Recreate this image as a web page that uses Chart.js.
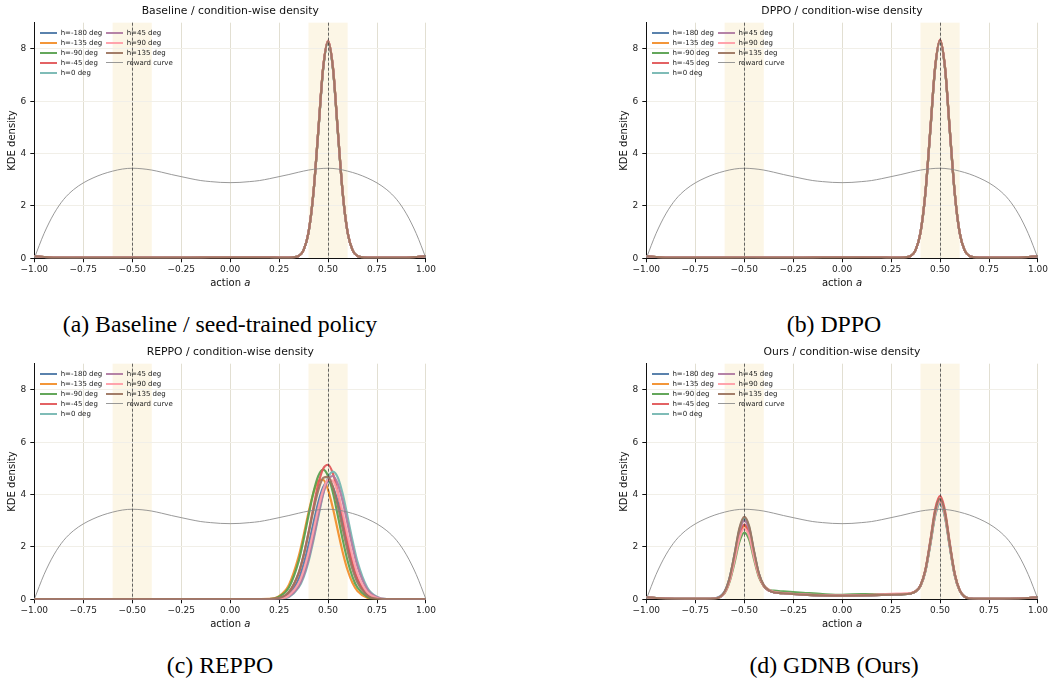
<!DOCTYPE html>
<html>
<head>
<meta charset="utf-8">
<script src="https://cdn.jsdelivr.net/npm/chart.js@4.4.1/dist/chart.umd.min.js"></script>
<style>
    body { margin: 0; width: 1050px; height: 682px; position: relative; overflow: hidden; background: #fff; font-family: "DejaVu Sans", sans-serif; color: #111; }
    .panel { position: absolute; width: 438px; height: 300px; }
    .panel canvas { position: absolute; left: 0; top: 0; }
    .ptitle { position: absolute; left: 34.3px; width: 392px; top: 4px; text-align: center; font-size: 10.8px; line-height: 13px; }
    .xlabel { position: absolute; left: 34.3px; width: 392px; top: 276.7px; text-align: center; font-size: 10px; line-height: 12px; }
    .legend { position: absolute; left: 40px; top: 27.7px; width: 150px; height: 50px; }
    .leg-item { position: absolute; height: 10px; width: 70px; font-size: 7px; line-height: 10px; color: #222; }
    .leg-line { position: absolute; left: 0; width: 17px; }
    .leg-text { position: absolute; left: 20.7px; top: 0; white-space: nowrap; }
    .caption { position: absolute; width: 440px; text-align: center; font-family: "Liberation Serif", serif; font-size: 23.8px; line-height: 24px; color: #000; }
</style>
</head>
<body>
<div id="root"></div>
<script>
// shared x grid for the KDE curves (finer around the two target modes)
const actionGrid = [-1, -0.95, -0.9, -0.8, -0.7, -0.65, -0.6, -0.575, -0.55, -0.525, -0.5, -0.475, -0.45, -0.425, -0.4, -0.375, -0.35, -0.3, -0.2, -0.1, 0, 0.1, 0.2, 0.25, 0.3, 0.35, 0.375, 0.4, 0.425, 0.45, 0.475, 0.5, 0.525, 0.55, 0.575, 0.6, 0.625, 0.65, 0.7, 0.75, 0.8, 0.9, 0.95, 1];

// reward curve (same in every panel)
const rewardGrid = [-1, -0.95, -0.9, -0.85, -0.8, -0.75, -0.7, -0.65, -0.6, -0.55, -0.5, -0.45, -0.4, -0.35, -0.3, -0.25, -0.2, -0.15, -0.1, -0.05, 0, 0.05, 0.1, 0.15, 0.2, 0.25, 0.3, 0.35, 0.4, 0.45, 0.5, 0.55, 0.6, 0.65, 0.7, 0.75, 0.8, 0.85, 0.9, 0.95, 1];
const rewardCurve = [0, 0.95, 1.7, 2.25, 2.62, 2.88, 3.07, 3.22, 3.33, 3.41, 3.44, 3.42, 3.37, 3.29, 3.2, 3.12, 3.04, 2.97, 2.93, 2.9, 2.89, 2.9, 2.93, 2.97, 3.04, 3.12, 3.2, 3.29, 3.37, 3.42, 3.44, 3.41, 3.33, 3.22, 3.07, 2.88, 2.62, 2.25, 1.7, 0.95, 0];

const headingLabels = ['h=-180 deg', 'h=-135 deg', 'h=-90 deg', 'h=-45 deg', 'h=0 deg', 'h=45 deg', 'h=90 deg', 'h=135 deg'];
const headingColors = ['#4e79a7', '#f28e2b', '#59a14f', '#e15759', '#76b7b2', '#b07aa1', '#ff9da7', '#9c755f'];

const xTicks = [-1, -0.75, -0.5, -0.25, 0, 0.25, 0.5, 0.75, 1];
const yTicks = [0, 2, 4, 6, 8];
const successBands = [[-0.6, -0.4], [0.4, 0.6]];
const targetModes = [-0.5, 0.5];

// Baseline / seed-trained policy
const baselineKde = [
    [0.07,0.04,0.03,0.02,0.03,0.03,0.03,0.03,0.03,0.03,0.03,0.03,0.03,0.03,0.03,0.03,0.03,0.03,0.03,0.04,0.05,0.05,0.04,0.03,0.03, 0.09,0.31,0.97,2.46,4.82,7.23,8.25,7.23,4.82,2.46,0.97,0.31,0.09, 0.03,0.03,0.03,0.03,0.05,0.07],
    [0.08,0.05,0.03,0.03,0.03,0.03,0.03,0.03,0.04,0.04,0.04,0.04,0.03,0.03,0.03,0.03,0.03,0.03,0.03,0.03,0.04,0.04,0.04,0.03,0.03, 0.09,0.31,0.98,2.48,4.85,7.28,8.30,7.28,4.85,2.48,0.98,0.31,0.09, 0.03,0.03,0.03,0.03,0.05,0.08],
    [0.08,0.05,0.03,0.03,0.03,0.03,0.03,0.03,0.03,0.03,0.03,0.03,0.03,0.03,0.03,0.03,0.03,0.04,0.04,0.05,0.05,0.04,0.04,0.03,0.03, 0.09,0.31,0.97,2.47,4.84,7.26,8.28,7.26,4.84,2.47,0.97,0.31,0.09, 0.03,0.03,0.03,0.03,0.05,0.08],
    [0.08,0.05,0.03,0.03,0.03,0.03,0.03,0.03,0.03,0.03,0.03,0.03,0.03,0.03,0.03,0.03,0.03,0.03,0.03,0.04,0.04,0.04,0.04,0.03,0.03, 0.09,0.31,0.98,2.48,4.86,7.29,8.32,7.29,4.86,2.48,0.98,0.31,0.09, 0.03,0.03,0.03,0.03,0.05,0.08],
    [0.08,0.05,0.03,0.03,0.03,0.03,0.03,0.03,0.03,0.03,0.03,0.03,0.03,0.03,0.03,0.03,0.03,0.03,0.03,0.04,0.04,0.04,0.04,0.03,0.03, 0.09,0.31,0.97,2.47,4.83,7.25,8.27,7.25,4.83,2.47,0.97,0.31,0.09, 0.03,0.03,0.03,0.03,0.05,0.08],
    [0.08,0.05,0.03,0.03,0.03,0.03,0.03,0.03,0.03,0.03,0.03,0.03,0.03,0.03,0.03,0.03,0.03,0.03,0.03,0.04,0.04,0.04,0.04,0.03,0.03, 0.09,0.31,0.98,2.48,4.85,7.28,8.30,7.28,4.85,2.48,0.98,0.31,0.09, 0.03,0.03,0.03,0.03,0.05,0.08],
    [0.08,0.05,0.03,0.03,0.03,0.03,0.03,0.03,0.03,0.03,0.03,0.03,0.03,0.03,0.03,0.03,0.03,0.03,0.03,0.04,0.04,0.04,0.04,0.03,0.03, 0.09,0.31,0.98,2.48,4.86,7.28,8.31,7.28,4.86,2.48,0.98,0.31,0.09, 0.03,0.03,0.03,0.03,0.05,0.08],
    [0.08,0.05,0.03,0.03,0.03,0.03,0.03,0.03,0.03,0.03,0.03,0.03,0.03,0.03,0.03,0.03,0.03,0.03,0.03,0.04,0.04,0.04,0.04,0.03,0.03, 0.09,0.31,0.98,2.48,4.85,7.27,8.29,7.27,4.85,2.48,0.98,0.31,0.09, 0.03,0.03,0.03,0.03,0.05,0.08]
];

// DPPO
const dppoKde = [
    [0.07,0.04,0.03,0.03,0.03,0.03,0.03,0.03,0.03,0.03,0.03,0.03,0.03,0.03,0.03,0.03,0.03,0.03,0.03,0.03,0.04,0.04,0.04,0.03,0.03, 0.09,0.31,0.97,2.47,4.84,7.26,8.28,7.26,4.84,2.47,0.97,0.31,0.09, 0.03,0.03,0.03,0.03,0.05,0.07],
    [0.08,0.05,0.03,0.03,0.03,0.03,0.03,0.03,0.04,0.04,0.04,0.05,0.05,0.04,0.03,0.03,0.03,0.03,0.03,0.03,0.03,0.04,0.04,0.03,0.03, 0.09,0.31,0.98,2.49,4.88,7.31,8.34,7.31,4.88,2.49,0.98,0.31,0.09, 0.03,0.03,0.03,0.03,0.05,0.08],
    [0.08,0.05,0.03,0.03,0.03,0.03,0.03,0.03,0.03,0.03,0.03,0.03,0.03,0.03,0.03,0.03,0.03,0.03,0.03,0.04,0.04,0.04,0.04,0.03,0.03, 0.09,0.31,0.98,2.48,4.85,7.28,8.30,7.28,4.85,2.48,0.98,0.31,0.09, 0.03,0.03,0.03,0.03,0.05,0.08],
    [0.08,0.05,0.03,0.03,0.03,0.03,0.03,0.03,0.03,0.03,0.03,0.03,0.03,0.03,0.03,0.03,0.03,0.03,0.03,0.04,0.04,0.04,0.04,0.03,0.03, 0.09,0.31,0.98,2.49,4.88,7.32,8.35,7.32,4.88,2.49,0.98,0.31,0.09, 0.03,0.03,0.03,0.03,0.05,0.08],
    [0.08,0.05,0.03,0.03,0.03,0.03,0.03,0.03,0.03,0.03,0.03,0.03,0.03,0.03,0.03,0.03,0.03,0.03,0.03,0.04,0.04,0.05,0.04,0.03,0.03, 0.09,0.31,0.98,2.48,4.86,7.28,8.31,7.28,4.86,2.48,0.98,0.31,0.09, 0.03,0.03,0.03,0.03,0.05,0.08],
    [0.08,0.05,0.03,0.03,0.03,0.03,0.03,0.03,0.03,0.03,0.03,0.03,0.03,0.03,0.03,0.03,0.03,0.03,0.03,0.04,0.04,0.04,0.04,0.03,0.03, 0.09,0.31,0.98,2.49,4.87,7.30,8.33,7.30,4.87,2.49,0.98,0.31,0.09, 0.03,0.03,0.03,0.03,0.05,0.08],
    [0.08,0.05,0.03,0.03,0.03,0.03,0.03,0.03,0.03,0.03,0.03,0.03,0.03,0.03,0.03,0.03,0.03,0.03,0.03,0.04,0.04,0.04,0.04,0.03,0.03, 0.09,0.31,0.98,2.48,4.86,7.29,8.32,7.29,4.86,2.48,0.98,0.31,0.09, 0.03,0.03,0.03,0.03,0.05,0.08],
    [0.08,0.05,0.03,0.03,0.03,0.03,0.03,0.03,0.03,0.03,0.03,0.03,0.03,0.03,0.03,0.03,0.03,0.03,0.03,0.04,0.04,0.04,0.04,0.03,0.03, 0.09,0.31,0.98,2.49,4.87,7.30,8.33,7.30,4.87,2.49,0.98,0.31,0.09, 0.03,0.03,0.03,0.03,0.05,0.08]
];

// REPPO
const reppoKde = [
    [0.01,0.01,0.01,0.01,0.01,0.01,0.01,0.01,0.01,0.01,0.01,0.01,0.01,0.01,0.01,0.01,0.01,0.01,0.01,0.01,0.01,0.01, 0.01,0.03,0.20,0.77,1.33,2.06,2.90,3.70,4.28,4.50,4.28,3.70,2.90,2.06,1.33,0.77,0.20,0.03,0.01, 0.01,0.01,0.01],
    [0.01,0.01,0.01,0.01,0.01,0.01,0.01,0.01,0.01,0.01,0.01,0.01,0.01,0.01,0.01,0.01,0.01,0.01,0.01,0.01,0.01,0.01, 0.02,0.12,0.55,1.64,2.44,3.31,4.06,4.52,4.56,4.18,3.47,2.62,1.79,1.11,0.62,0.32,0.06,0.01,0.01, 0.01,0.01,0.01],
    [0.01,0.01,0.01,0.01,0.01,0.01,0.01,0.01,0.01,0.01,0.01,0.01,0.01,0.01,0.01,0.01,0.01,0.01,0.01,0.01,0.01,0.01, 0.01,0.10,0.45,1.46,2.27,3.19,4.07,4.71,4.95,4.71,4.07,3.19,2.27,1.46,0.85,0.45,0.10,0.01,0.01, 0.01,0.01,0.01],
    [0.01,0.01,0.01,0.01,0.01,0.01,0.01,0.01,0.01,0.01,0.01,0.01,0.01,0.01,0.01,0.01,0.01,0.01,0.01,0.01,0.01,0.01, 0.01,0.05,0.26,0.99,1.67,2.54,3.51,4.40,4.99,5.14,4.80,4.07,3.13,2.18,1.38,0.79,0.19,0.03,0.01, 0.01,0.01,0.01],
    [0.01,0.01,0.01,0.01,0.01,0.01,0.01,0.01,0.01,0.01,0.01,0.01,0.01,0.01,0.01,0.01,0.01,0.01,0.01,0.01,0.01,0.01, 0.01,0.01,0.09,0.45,0.84,1.44,2.24,3.14,4.02,4.65,4.88,4.65,4.02,3.14,2.24,1.44,0.45,0.09,0.01, 0.01,0.01,0.01],
    [0.01,0.01,0.01,0.01,0.01,0.01,0.01,0.01,0.01,0.01,0.01,0.01,0.01,0.01,0.01,0.01,0.01,0.01,0.01,0.01,0.01,0.01, 0.01,0.02,0.11,0.50,0.91,1.53,2.33,3.22,4.03,4.57,4.71,4.40,3.73,2.87,2.00,1.26,0.38,0.08,0.01, 0.01,0.01,0.01],
    [0.01,0.01,0.01,0.01,0.01,0.01,0.01,0.01,0.01,0.01,0.01,0.01,0.01,0.01,0.01,0.01,0.01,0.01,0.01,0.01,0.01,0.01, 0.01,0.02,0.15,0.62,1.11,1.79,2.62,3.47,4.18,4.56,4.52,4.06,3.31,2.44,1.64,0.99,0.27,0.05,0.01, 0.01,0.01,0.01],
    [0.01,0.01,0.01,0.01,0.01,0.01,0.01,0.01,0.01,0.01,0.01,0.01,0.01,0.01,0.01,0.01,0.01,0.01,0.01,0.01,0.01,0.01, 0.01,0.05,0.28,1.02,1.68,2.51,3.39,4.16,4.64,4.68,4.29,3.56,2.69,1.84,1.14,0.64,0.15,0.02,0.01, 0.01,0.01,0.01]
];

// Ours (GDNB)
const oursKde = [
    [0.08,0.05,0.03,0.02,0.02,0.04, 0.30,0.80,1.68,2.62,3.05,2.71,1.80,0.96,0.52,0.34, 0.27,0.23,0.18,0.15,0.14,0.15,0.17,0.18,0.19, 0.22,0.30,0.52,1.08,2.13,3.26,3.75,3.21,2.03,0.93,0.34,0.10, 0.03,0.02,0.02,0.02,0.03,0.05,0.08],
    [0.08,0.05,0.03,0.02,0.02,0.03, 0.26,0.72,1.51,2.40,2.80,2.50,1.66,0.90,0.50,0.34, 0.27,0.23,0.18,0.15,0.14,0.15,0.17,0.18,0.19, 0.22,0.30,0.52,1.10,2.15,3.31,3.80,3.26,2.05,0.95,0.34,0.10, 0.03,0.02,0.02,0.02,0.03,0.05,0.08],
    [0.08,0.05,0.03,0.02,0.02,0.03, 0.24,0.66,1.38,2.19,2.55,2.29,1.53,0.85,0.52,0.37, 0.33,0.30,0.25,0.20,0.17,0.20,0.19,0.19,0.19, 0.22,0.30,0.51,1.07,2.10,3.22,3.70,3.17,2.00,0.92,0.33,0.10, 0.03,0.02,0.02,0.02,0.03,0.05,0.08],
    [0.08,0.05,0.03,0.02,0.02,0.03, 0.26,0.73,1.54,2.44,2.85,2.54,1.69,0.91,0.50,0.34, 0.27,0.23,0.18,0.15,0.14,0.15,0.17,0.18,0.20, 0.23,0.30,0.53,1.13,2.23,3.44,3.95,3.39,2.13,0.98,0.35,0.10, 0.03,0.02,0.02,0.02,0.03,0.05,0.08],
    [0.08,0.05,0.03,0.02,0.02,0.03, 0.28,0.79,1.67,2.66,3.10,2.76,1.82,0.97,0.52,0.35, 0.27,0.23,0.18,0.15,0.14,0.15,0.17,0.18,0.19, 0.22,0.30,0.51,1.06,2.07,3.18,3.65,3.13,1.97,0.91,0.33,0.10, 0.03,0.02,0.02,0.02,0.03,0.05,0.08],
    [0.08,0.05,0.03,0.02,0.02,0.03, 0.27,0.77,1.62,2.57,3.00,2.67,1.77,0.95,0.51,0.34, 0.27,0.23,0.18,0.15,0.14,0.15,0.17,0.18,0.19, 0.22,0.30,0.52,1.10,2.15,3.31,3.80,3.26,2.05,0.95,0.34,0.10, 0.03,0.02,0.02,0.02,0.03,0.05,0.08],
    [0.08,0.05,0.03,0.02,0.02,0.03, 0.25,0.69,1.46,2.31,2.70,2.41,1.61,0.89,0.53,0.37, 0.29,0.24,0.19,0.16,0.15,0.16,0.19,0.21,0.22, 0.24,0.31,0.52,1.08,2.13,3.26,3.75,3.21,2.03,0.93,0.34,0.10, 0.03,0.02,0.02,0.02,0.03,0.05,0.08],
    [0.08,0.05,0.03,0.02,0.02,0.03, 0.29,0.80,1.70,2.70,3.15,2.80,1.85,0.98,0.53,0.35, 0.27,0.23,0.18,0.15,0.14,0.15,0.17,0.18,0.19, 0.22,0.30,0.53,1.11,2.18,3.35,3.85,3.30,2.08,0.96,0.35,0.10, 0.03,0.02,0.02,0.02,0.03,0.05,0.08]
];

const panels = [
    { kde: baselineKde, title: 'Baseline / condition-wise density', caption: '(a) Baseline / seed-trained policy', left: 0, top: 0 },
    { kde: dppoKde, title: 'DPPO / condition-wise density', caption: '(b) DPPO', left: 611.7, top: 0 },
    { kde: reppoKde, title: 'REPPO / condition-wise density', caption: '(c) REPPO', left: 0, top: 341.3 },
    { kde: oursKde, title: 'Ours / condition-wise density', caption: '(d) GDNB (Ours)', left: 611.7, top: 341.3 }
];

const REWARD_COLOR = 'rgba(135, 135, 135, 0.85)';
const AXIS_COLOR = '#111';

// Shaded target regions go under the grid, dashed mode markers over the curves
const regionPlugin = {
    id: 'regions',
    beforeDraw(chart) {
        const { ctx, chartArea, scales } = chart;
        ctx.save();
        ctx.fillStyle = 'rgba(248, 234, 200, 0.45)';
        successBands.forEach(([a, b]) => {
            const x0 = scales.x.getPixelForValue(a);
            const x1 = scales.x.getPixelForValue(b);
            ctx.fillRect(x0, chartArea.top, x1 - x0, chartArea.bottom - chartArea.top);
        });
        ctx.restore();
    },
    afterDatasetsDraw(chart) {
        const { ctx, chartArea, scales } = chart;
        ctx.save();
        ctx.strokeStyle = 'rgba(50, 50, 50, 0.8)';
        ctx.lineWidth = 0.9;
        ctx.setLineDash([3, 2]);
        targetModes.forEach(v => {
            const x = Math.round(scales.x.getPixelForValue(v)) + 0.5;
            ctx.beginPath();
            ctx.moveTo(x, chartArea.top);
            ctx.lineTo(x, chartArea.bottom);
            ctx.stroke();
        });
        ctx.restore();
    }
};

function formatTick(v) {
    return (v < 0 ? '\u2212' : '') + Math.abs(v).toFixed(2);
}

function buildDatasets(kde) {
    const sets = kde.map((row, i) => ({
        label: headingLabels[i],
        data: row.map((y, j) => ({ x: actionGrid[j], y: y })),
        borderColor: headingColors[i] + 'ee',
        borderWidth: 2.2,
        pointRadius: 0,
        cubicInterpolationMode: 'monotone',
        order: kde.length - i
    }));
    sets.push({
        label: 'reward curve',
        data: rewardGrid.map((x, j) => ({ x: x, y: rewardCurve[j] })),
        borderColor: REWARD_COLOR,
        borderWidth: 1,
        pointRadius: 0,
        cubicInterpolationMode: 'monotone',
        order: 0
    });
    return sets;
}

function buildLegend(parent) {
    const legend = document.createElement('div');
    legend.className = 'legend';
    const items = headingLabels.map((label, i) => ({ label: label, color: headingColors[i] + 'ee', width: 2 }));
    items.push({ label: 'reward curve', color: REWARD_COLOR, width: 1 });
    items.forEach((item, i) => {
        const col = i < 5 ? 0 : 1;
        const row = i < 5 ? i : i - 5;
        const el = document.createElement('div');
        el.className = 'leg-item';
        el.style.left = (col * 66) + 'px';
        el.style.top = (row * 10) + 'px';
        const line = document.createElement('div');
        line.className = 'leg-line';
        line.style.height = item.width + 'px';
        line.style.top = (5 - item.width / 2) + 'px';
        line.style.background = item.color;
        const text = document.createElement('div');
        text.className = 'leg-text';
        text.textContent = item.label;
        el.appendChild(line);
        el.appendChild(text);
        legend.appendChild(el);
    });
    parent.appendChild(legend);
}

function buildPanel(p) {
    const root = document.getElementById('root');
    const box = document.createElement('div');
    box.className = 'panel';
    box.style.left = p.left + 'px';
    box.style.top = p.top + 'px';

    const canvas = document.createElement('canvas');
    canvas.width = 438;
    canvas.height = 300;
    box.appendChild(canvas);

    const title = document.createElement('div');
    title.className = 'ptitle';
    title.textContent = p.title;
    box.appendChild(title);

    const xlabel = document.createElement('div');
    xlabel.className = 'xlabel';
    xlabel.appendChild(document.createTextNode('action '));
    const ital = document.createElement('i');
    ital.textContent = 'a';
    xlabel.appendChild(ital);
    box.appendChild(xlabel);

    buildLegend(box);
    root.appendChild(box);

    const caption = document.createElement('div');
    caption.className = 'caption';
    caption.textContent = p.caption;
    caption.style.left = (p.left === 0 ? 0 : 614) + 'px';
    caption.style.top = (p.top + 312) + 'px';
    root.appendChild(caption);

    const tickFont = { family: 'DejaVu Sans', size: 9 };

    new Chart(canvas.getContext('2d'), {
        type: 'line',
        data: { datasets: buildDatasets(p.kde) },
        options: {
            responsive: false,
            animation: false,
            layout: { padding: { left: 0, right: 11.7, top: 22.7, bottom: 0 } },
            plugins: {
                legend: { display: false },
                tooltip: { enabled: false }
            },
            scales: {
                x: {
                    type: 'linear',
                    min: -1,
                    max: 1,
                    afterBuildTicks: s => { s.ticks = xTicks.map(v => ({ value: v })); },
                    afterFit: s => { s.height = 41.7; },
                    ticks: { font: tickFont, color: '#222', padding: 2, maxRotation: 0, autoSkip: false, callback: formatTick },
                    grid: { color: '#e2dfd2', lineWidth: 1, drawTicks: true, tickLength: 4, tickColor: AXIS_COLOR },
                    border: { color: AXIS_COLOR, width: 1 }
                },
                y: {
                    min: 0,
                    max: 9,
                    afterBuildTicks: s => { s.ticks = yTicks.map(v => ({ value: v })); },
                    afterFit: s => { s.width = 34.3; },
                    ticks: { font: tickFont, color: '#222', padding: 4 },
                    grid: { color: '#f1efe8', lineWidth: 1, drawTicks: true, tickLength: 4, tickColor: AXIS_COLOR },
                    border: { color: AXIS_COLOR, width: 1 },
                    title: { display: true, text: 'KDE density', color: '#111', font: { family: 'DejaVu Sans', size: 10 }, padding: { top: 6.3, bottom: 0 } }
                }
            }
        },
        plugins: [regionPlugin]
    });
}

panels.forEach(buildPanel);
</script>
</body>
</html>
